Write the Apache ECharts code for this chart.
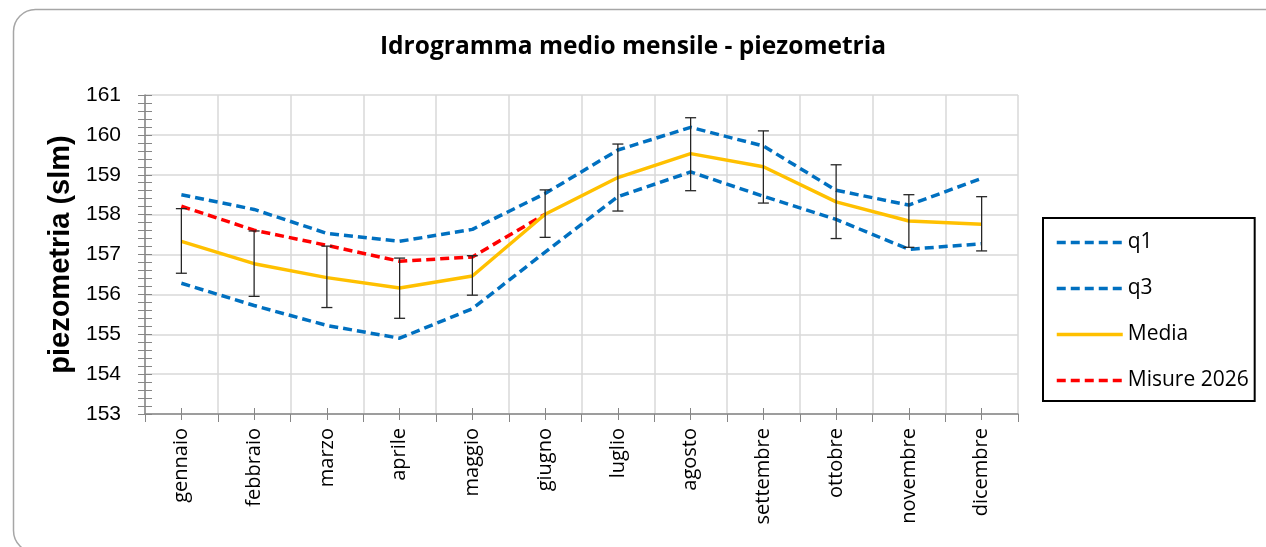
<!DOCTYPE html>
<html>
<head>
<meta charset="utf-8">
<script src="https://cdn.jsdelivr.net/npm/echarts@6/dist/echarts.min.js"></script>
<style>
html,body{margin:0;padding:0;background:#fff;}
#c{width:1266px;height:547px;}
</style>
</head>
<body>
<div id="c"></div>
<script>
const months = ['gennaio','febbraio','marzo','aprile','maggio','giugno','luglio','agosto','settembre','ottobre','novembre','dicembre'];
const q1 = [156.28,155.72,155.22,154.90,155.64,157.06,158.45,159.07,158.46,157.88,157.13,157.27];
const q3 = [158.50,158.13,157.53,157.33,157.63,158.53,159.62,160.19,159.72,158.61,158.24,158.91];
const media = [157.33,156.77,156.42,156.16,156.46,158.01,158.93,159.53,159.20,158.32,157.84,157.76];
const misure2026 = [158.21,157.61,157.23,156.83,156.94,158.01,null,null,null,null,null,null];
const errLow = [156.53,155.95,155.67,155.40,155.98,157.43,158.09,158.60,158.29,157.40,157.18,157.09];
const errHigh = [158.15,157.59,157.21,156.91,156.97,158.62,159.77,160.43,160.10,159.25,158.50,158.45];
const yTicks = {min:153, max:161, interval:1};

const chart = echarts.init(document.getElementById('c'), null, {renderer:'canvas'});
const dash = [9,5];
const errData = months.map((m,i)=>[i, errLow[i], errHigh[i]]);

chart.setOption({
  animation:false,
  backgroundColor:'#fff',
  title:{
    text:'Idrogramma medio mensile - piezometria',
    left:'center', top:30,
    textStyle:{fontFamily:'Open Sans', fontWeight:'bold', fontSize:24.5, color:'#000'}
  },
  graphic:[{
    type:'rect', left:11, top:7, shape:{width:1275, height:543, r:22},
    style:{fill:'none', stroke:'#a6a6a6', lineWidth:1.5}, z:-10
  }],
  legend:{
    orient:'vertical', left:1043, top:218,
    data:['q1','q3','Media','Misure 2026'],
    borderColor:'#000', borderWidth:2,
    padding:[14,6,10,12],
    itemWidth:66, itemHeight:14, itemGap:25,
    itemStyle:{opacity:0},
    lineStyle:{width:3.5},
    textStyle:{fontFamily:'Open Sans', fontSize:21, color:'#000', lineHeight:20}
  },
  grid:{left:145, right:248, top:95, bottom:133},
  xAxis:[{
    type:'category', data:months, boundaryGap:true,
    axisLine:{lineStyle:{color:'#868686', width:1.5}},
    axisTick:{show:true, length:8, lineStyle:{color:'#868686'}},
    splitLine:{show:true, lineStyle:{color:'#d9d9d9', width:1.5}},
    axisLabel:{rotate:90, margin:14, fontFamily:'Open Sans', fontSize:20, color:'#000'}
  },{
    type:'category', data:months, boundaryGap:true, position:'bottom', offset:-6,
    axisLine:{show:false},
    axisTick:{show:true, alignWithLabel:true, length:12, lineStyle:{color:'#868686'}},
    axisLabel:{show:false}, splitLine:{show:false}
  }],
  yAxis:[{
    type:'value', min:yTicks.min, max:yTicks.max, interval:yTicks.interval,
    name:'piezometria (slm)', nameLocation:'middle', nameGap:70,
    nameTextStyle:{fontFamily:'Liberation Sans', fontWeight:'bold', fontSize:29, color:'#000'},
    axisLine:{show:true, lineStyle:{color:'#868686', width:1.5}},
    axisTick:{show:true, length:7, lineStyle:{color:'#868686'}},
    minorTick:{show:true, splitNumber:5, length:7, lineStyle:{color:'#868686'}},
    splitLine:{show:true, lineStyle:{color:'#d9d9d9', width:1.5}},
    axisLabel:{margin:24, fontFamily:'Liberation Sans', fontSize:21, color:'#000'}
  },{
    type:'value', min:yTicks.min, max:yTicks.max, interval:yTicks.interval,
    position:'left', offset:-7,
    axisLine:{show:false},
    axisTick:{show:true, length:7, lineStyle:{color:'#868686'}},
    minorTick:{show:true, splitNumber:5, length:7, lineStyle:{color:'#868686'}},
    splitLine:{show:false}, axisLabel:{show:false}
  }],
  series:[
    {name:'q1', type:'line', data:q1, symbol:'none', lineStyle:{color:'#0070C0', width:3.5, type:dash}, itemStyle:{color:'#0070C0'}, z:3},
    {name:'q3', type:'line', data:q3, symbol:'none', lineStyle:{color:'#0070C0', width:3.5, type:dash}, itemStyle:{color:'#0070C0'}, z:3},
    {name:'Media', type:'line', data:media, symbol:'none', lineStyle:{color:'#FFC000', width:3.5}, itemStyle:{color:'#FFC000'}, z:4},
    {name:'Misure 2026', type:'line', data:misure2026, symbol:'none', lineStyle:{color:'#FF0000', width:3.5, type:dash}, itemStyle:{color:'#FF0000'}, z:3},
    {name:'err', type:'custom', data:errData, z:5,
      encode:{x:0, y:[1,2]},
      renderItem:function(params, api){
        const x = api.value(0);
        const lo = api.coord([x, api.value(1)]);
        const hi = api.coord([x, api.value(2)]);
        const w = 5.5;
        const st = {stroke:'#262626', lineWidth:1.3};
        return {type:'group', children:[
          {type:'line', shape:{x1:lo[0], y1:lo[1], x2:hi[0], y2:hi[1]}, style:st},
          {type:'line', shape:{x1:lo[0]-w, y1:lo[1], x2:lo[0]+w, y2:lo[1]}, style:st},
          {type:'line', shape:{x1:hi[0]-w, y1:hi[1], x2:hi[0]+w, y2:hi[1]}, style:st}
        ]};
      }
    }
  ]
});
</script>
</body>
</html>
